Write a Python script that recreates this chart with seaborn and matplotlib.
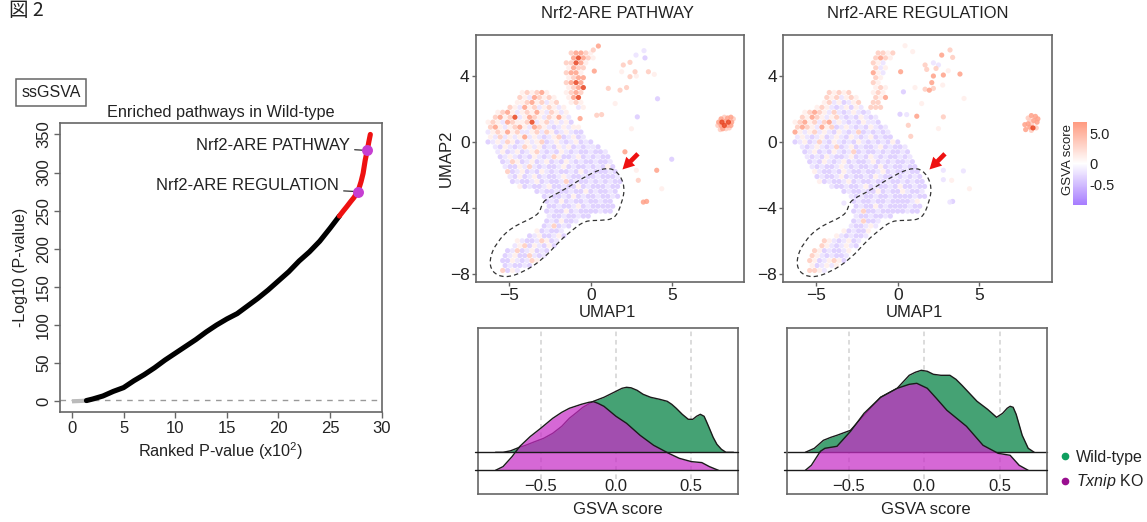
import matplotlib
matplotlib.use("Agg")
import matplotlib.pyplot as plt
import numpy as np
import pandas as pd
import seaborn as sns
from matplotlib.cm import ScalarMappable
from matplotlib.colors import LinearSegmentedColormap, TwoSlopeNorm
from matplotlib.lines import Line2D
from matplotlib.patches import PathPatch
from matplotlib.path import Path

# --------------------------------------
# Ranked pathway curve
# --------------------------------------
GREY_RANK = [0, 0.5, 1.0, 1.5]
GREY_LOGP = [0, 0.3, 0.6, 1]
BLACK_RANK = [1.4, 2, 3, 4, 5, 6, 7, 8, 9, 10, 11, 12, 13, 14, 15, 16, 17, 18, 19, 20, 21, 22, 23, 24, 25, 25.9]
BLACK_LOGP = [1, 3, 7, 13, 18, 27, 35, 44, 54, 63, 72, 81, 91, 100, 108, 115, 125, 135, 146, 158, 170, 184, 196, 210, 227, 243]
RED_RANK = [25.9, 26.3, 26.6, 27, 27.3, 27.7, 28, 28.2, 28.4, 28.6, 28.75, 28.9]
RED_LOGP = [243, 250, 255, 262, 267, 275, 288, 299, 316, 329, 340, 350]
HIGHLIGHT_RANK = [28.6, 27.7]
HIGHLIGHT_LOGP = [329, 275]
HIGHLIGHT_NAMES = ["Nrf2-ARE PATHWAY", "Nrf2-ARE REGULATION"]

# --------------------------------------
# UMAP cells binned by eye, 0.3 units per character, one row every 0.3
# a,b lilac / c,d,e pink to salmon / f red
# --------------------------------------
LEVEL_NAMES = "abcdef"
LEVEL_SCORES = [-0.4, -0.22, 1.2, 3.5, 6.5, 9.0]

PATHWAY_ROWS = [
    "",
    "",
    "                  deedc",
    "                  efedc",
    "                 ddfec",
    "                 cedd",
    "                 deec",
    "                 cdee",
    "                 defe",
    "                 cdef",
    "        cdcdec   cded",
    "       dcbedcdc  cef",
    "       ccdecdbcd  cdc",
    "     dcbecdbcdcbc  bc",
    "   cdecbcdcecbdcbc",
    "  decdfbcedcbdcecb",
    " cdcbedccdfbcdbcbca",
    " decbcdecbedcbabcbcc",
    " bcdcecdbbcdbdcabcbaa",
    " cbdbcbcebcbabcdabcab",
    " abcbdcabcbcdabcbabcaba",
    "  bacbabdcbcabacbcababba",
    "   bcabcabcdbabacbabaabaab",
    "   abcbabacbabdcaabcababaa",
    "    abdcabcabcabacbabaabaab",
    "    baacbdbabaabcabaababaca",
    "     dabcabacbabaabacabaaaba",
    "     bacabcabaabcbaabaabaaab",
    "      abaabcabaabdabaabababaa",
    "       cabaabcaabaacabaaabaa",
    "           abaabaabaacabaaba",
    "            abaabacabaabaaba",
    "             abacabaabaabaa",
    "             aabaabcabaaaaa",
    "             abaacabaaaabaa",
    "             baabaabaa",
    "             abacaab",
    "            abdaba",
    "           cabaab",
    "         abcaabca",
    "       cbaabdcab",
    "      bcdacbaca",
    "     abdabcaba",
    "    abcaadbab",
    "    aacbabdc",
    "    abaaba",
    "    dacb",
]
PATHWAY_X = [0.47, 0.16, 3.27, 2.78, 3.33, 2.41, 2.0, 1.9, 2.72, 3.54, 3.9, 0.22, 2.41, 2.8, 2.2, 1.8, 1.08, 4.1, 1.5, 2.86,
             0.37, 0.67, -0.65, 2.1, 4.97, 4.05, 2.8, 2.92, 3.23, 3.43, 2.5, 4.36,
             8.0, 8.2, 8.4, 8.6, 8.75, 7.85, 8.05, 8.25, 8.45, 8.65, 7.8, 8.0, 8.2, 8.4, 8.6, 8.1, 8.3, 7.95, 8.5]
PATHWAY_Y = [5.82, 5.58, 5.54, 5.27, 5.1, 4.83, 4.67, 4.26, 4.26, 4.26, 4.1, 4.3, 3.96, 4.0, 3.3, 3.14, 3.25, 2.62, 2.33, 1.52,
             1.62, 1.66, 1.42, -0.6, -1.05, -1.72, -1.72, -2.33, -3.65, -3.61, 0.8, -2.84,
             1.4, 1.5, 1.45, 1.5, 1.4, 1.2, 1.2, 1.25, 1.2, 1.2, 1.0, 1.0, 1.0, 1.0, 1.0, 0.8, 0.8, 0.75, 0.85]
PATHWAY_LEVEL = "edbbaddcddcedcdddaca" + "ddeeaecdeecc" + "edeedefefedefeeeddd"

REGULATION_ROWS = [
    "",
    "",
    "                  ddcd",
    "                 dedc",
    "                 dcb",
    "                 dbc",
    "                 ecb",
    "                 dc",
    "                 dc",
    "                 cdc",
    "        dcdcd    cdc",
    "       dcdbcdc   dce",
    "       cdbcabcd  dd",
    "     cdcbabcacb ddd",
    "   cdedcbdbabcbab",
    "  dcedcbcdbabacbab",
    " cdecdbdebcbabacbba",
    " dedcbecdabcbabacbab",
    " ecbcdbcbacbabdababab",
    " bcbabcabcbacbabcabaa",
    " abcabdbacbabacbababaca",
    "  babcbabdabcabaabcabaab",
    "   abcabacbabdabaababaaba",
    "   babacbaabcabacbabaabab",
    "    abacbabcabaabcababaaba",
    "    babaabcbabaabacabaabaa",
    "     cbaabacbaabaabcabaabaa",
    "     abaabcabaabacbaabababa",
    "      cabaabcabaabaabaababaa",
    "        baabaabcabaabacaabaa",
    "           abaabaacabaacbaab",
    "            babaabaabaaaabaa",
    "             abaabaabaaaabc",
    "             abaacabaaaabaa",
    "             abdaabaaaaabaa",
    "             baabaaba",
    "             abdaab",
    "            baabcb",
    "           cabaac",
    "         cbabaab",
    "       dcbabcab",
    "      dcbabcba",
    "     dcabaabc",
    "    dcbabaab",
    "    dcabcdca",
    "    cabcbc",
    "    ddcb",
]
REGULATION_X = [0.45, 0.92, 3.21, 2.7, 3.37, 1.68, 2.19, 2.5, 1.78, 2.35, 0.18, 3.1, 3.82, 2.19, 2.8, 2.09, 2.76, 1.06, 1.68, 1.94,
                2.19, 0.35, 4.07, 1.47, 0.14, 0.55, 1.17, 2.8, 0.65, 2.5, 0.8, 2.8, 4.03, 2.8, 3.31, 4.4, 3.2, 3.37, -3.3,
                8.0, 8.2, 8.45, 8.6, 8.1, 8.35, 8.55, 8.0, 8.2, 8.4, 7.8, 8.1, 8.3, 8.5, 7.85, 8.2]
REGULATION_Y = [5.84, 5.48, 5.58, 5.27, 5.13, 4.67, 4.8, 4.67, 4.4, 4.46, 4.26, 4.32, 4.12, 4.0, 4.06, 3.6, 3.45, 3.3, 3.2, 3.14,
                3.25, 3.04, 2.64, 2.33, 1.68, 1.66, 1.56, 1.52, 1.01, 0.81, 0.34, -1.72, -1.76, -2.29, -2.33, -2.84, -3.65, -3.61, -3.71,
                1.45, 1.6, 1.55, 1.4, 1.3, 1.3, 1.2, 1.1, 1.1, 1.1, 1.05, 0.9, 0.85, 0.85, 0.75, 0.7]
REGULATION_LEVEL = "ccdeddbbddeceeeeccde" + "daccabeddcdbbbccbab" + "deeedeeedceefded"

# outline of the dashed region
OUTLINE_X = [-2.80, -1.68, -0.25, 0.98, 1.70, 2.11, 1.90, 1.49, 0.57, -0.35, -1.17, -1.88, -2.90, -4.13, -5.26, -6.07, -6.22, -5.77, -4.85, -3.21, -3.01]
OUTLINE_Y = [-3.49, -2.94, -2.03, -1.52, -1.83, -2.74, -3.75, -4.67, -4.77, -4.77, -5.38, -5.98, -7.10, -7.91, -8.26, -7.91, -7.10, -6.09, -5.17, -4.46, -3.85]

# --------------------------------------
# Ridges, heights in arbitrary units
# --------------------------------------
P_WT_X = [-0.80, -0.75, -0.70, -0.65, -0.60, -0.55, -0.48, -0.42, -0.36, -0.31, -0.26, -0.22, -0.15, -0.08, -0.04, 0, 0.04, 0.07, 0.10, 0.14, 0.18, 0.23, 0.29, 0.34, 0.37, 0.40, 0.44, 0.48, 0.51, 0.535, 0.56, 0.585, 0.60, 0.62, 0.645, 0.67, 0.70, 0.73, 0.78]
P_WT_H = [0, 0, 1.5, 4.5, 7, 10, 14, 19, 26, 34, 40, 45, 51, 55, 58, 61, 64, 65, 64.5, 62, 58, 55, 53, 51, 48, 44, 38, 33, 33, 36, 38, 36, 31, 24, 15, 8, 3, 0, 0]
P_KO_X = [-0.80, -0.75, -0.69, -0.64, -0.57, -0.50, -0.42, -0.36, -0.31, -0.23, -0.18, -0.15, -0.12, -0.08, 0, 0.07, 0.16, 0.25, 0.35, 0.42, 0.50, 0.57, 0.62, 0.68]
P_KO_H = [0, 3.7, 13.7, 23.7, 33.7, 42, 52, 58, 62, 66, 68, 68.7, 67, 64, 54, 47, 35, 25, 17, 12, 8.7, 7.7, 3.7, 0]
R_WT_X = [-0.79, -0.73, -0.67, -0.62, -0.58, -0.49, -0.40, -0.29, -0.18, -0.10, -0.06, -0.02, 0.02, 0.06, 0.11, 0.17, 0.21, 0.25, 0.35, 0.42, 0.48, 0.52, 0.55, 0.57, 0.59, 0.61, 0.65, 0.69, 0.73]
R_WT_H = [0, 4, 12, 15, 17, 22, 37, 55, 64, 77, 80, 82, 81, 78, 77, 77, 73, 67, 51, 43, 35, 39, 44, 46, 45, 38, 17, 4, 0]
R_KO_X = [-0.79, -0.75, -0.69, -0.66, -0.58, -0.49, -0.40, -0.29, -0.18, -0.10, -0.05, 0.02, 0.08, 0.15, 0.28, 0.39, 0.49, 0.57, 0.63, 0.69]
R_KO_H = [0, 5, 19, 22, 24, 39, 57, 73, 82, 86, 87, 82, 72, 60, 44, 25, 17, 15, 5, 0]
RIDGE_OFFSET = 18

COLORBAR_TICKS = [-0.5, 0, 5]
COLORBAR_LABELS = ["-0.5", "0", "5.0"]

W, H = 1147, 522
GREEN = "#45A274"
ORCHID = "#C72EC7"
EDGE = "#666666"

sns.set_theme(style="white")
plt.rcParams["font.family"] = ["Liberation Sans", "Noto Sans CJK JP"]
plt.rcParams["mathtext.fontset"] = "custom"
plt.rcParams["mathtext.rm"] = "Liberation Sans"
plt.rcParams["mathtext.it"] = "Liberation Sans:italic"
plt.rcParams["mathtext.default"] = "regular"
plt.rcParams["text.color"] = "#222222"
plt.rcParams["axes.labelcolor"] = "#222222"
plt.rcParams["xtick.color"] = "#222222"
plt.rcParams["ytick.color"] = "#222222"

fig = plt.figure(figsize=(W / 100, H / 100), dpi=100)


def px_axes(left, top, right, bottom):
    ax = fig.add_axes([left / W, 1 - bottom / H, (right - left) / W, (bottom - top) / H])
    for s in ax.spines.values():
        s.set_color(EDGE)
        s.set_linewidth(1.2)
    return ax


def cell_table(rows, extra_x, extra_y, extra_level):
    xs, ys, levels = list(extra_x), list(extra_y), list(extra_level)
    for r, row in enumerate(rows):
        for c, ch in enumerate(row):
            if ch != " ":
                xs.append(-6.6 + 0.3 * c + 0.15 * (r % 2))
                ys.append(6.0 - 0.3 * r)
                levels.append(ch)
    scores = [LEVEL_SCORES[LEVEL_NAMES.index(ch)] for ch in levels]
    return pd.DataFrame({"umap1": xs, "umap2": ys, "score": scores}).sort_values("score")


def outline_patch():
    # quadratic pieces through edge midpoints, closes on itself
    pts = np.column_stack([OUTLINE_X, OUTLINE_Y])
    mids = (pts + np.roll(pts, -1, axis=0)) / 2
    verts = [mids[-1]]
    codes = [Path.MOVETO]
    for p, m in zip(pts, mids):
        verts += [p, m]
        codes += [Path.CURVE3, Path.CURVE3]
    return PathPatch(Path(verts, codes), fill=False, ec="#333333", lw=0.9, ls=(0, (3.5, 2.5)))


cmap = LinearSegmentedColormap.from_list("gsva", ["#A67CFF", "#FFFFFF", "#FF9A80"])
cmap.set_over("#E8431F")
norm = TwoSlopeNorm(vmin=-1, vcenter=0, vmax=7)

# --------------------------------------
# Left panel
# --------------------------------------
ax = px_axes(60, 123, 382, 412)
ax.axhline(1.3, color="#999999", lw=1, ls=(0, (4, 4)))
sns.lineplot(x=GREY_RANK, y=GREY_LOGP, color="#BBBBBB", lw=3, ax=ax, solid_capstyle="butt")
sns.lineplot(x=BLACK_RANK, y=BLACK_LOGP, color="black", lw=3.7, ax=ax, solid_capstyle="round")
sns.lineplot(x=RED_RANK, y=RED_LOGP, color="#EE1111", lw=3.7, ax=ax, solid_capstyle="round")
sns.scatterplot(x=HIGHLIGHT_RANK, y=HIGHLIGHT_LOGP, color="#C63FD2", s=62, linewidth=0, ax=ax, zorder=5)
for name, rank, logp, right_px, mid_px in zip(HIGHLIGHT_NAMES, HIGHLIGHT_RANK, HIGHLIGHT_LOGP, [350, 339], [145, 186]):
    ax.annotate(name, xy=(rank, logp), xytext=(right_px / W, 1 - mid_px / H), textcoords="figure fraction",
                ha="right", va="center", fontsize=12,
                arrowprops=dict(arrowstyle="-", color="#333333", lw=0.9, shrinkA=1, shrinkB=0))
ax.set_xlim(-1.16, 30.03)
ax.set_ylim(-14, 365)
ax.set_xticks([0, 5, 10, 15, 20, 25, 30])
ax.set_yticks([0, 50, 100, 150, 200, 250, 300, 350])
ax.tick_params(left=True, bottom=True, length=4, width=1, color=EDGE, labelsize=12, pad=2.5)
plt.setp(ax.get_yticklabels(), rotation=90, va="center")
ax.set_xlabel("Ranked P-value (x10$^{2}$)", fontsize=11.7, labelpad=3)
ax.set_ylabel("-Log10 (P-value)", fontsize=11.5, labelpad=6)
ax.set_title("Enriched pathways in Wild-type", fontsize=11.7, pad=4)

fig.text(9 / W, 1 - 11 / H, "図 2", fontsize=14, va="center", ha="left", family=["Noto Sans CJK JP"])
fig.text(51 / W, 1 - 92.5 / H, "ssGSVA", fontsize=11.5, ha="center", va="center",
         bbox=dict(boxstyle="square,pad=0.35", fc="white", ec=EDGE, lw=1.1))

# --------------------------------------
# UMAP panels
# --------------------------------------
umap_panels = [
    (476, 744, 590.7, 617, "Nrf2-ARE PATHWAY", cell_table(PATHWAY_ROWS, PATHWAY_X, PATHWAY_Y, PATHWAY_LEVEL)),
    (783, 1052, 897.7, 918, "Nrf2-ARE REGULATION", cell_table(REGULATION_ROWS, REGULATION_X, REGULATION_Y, REGULATION_LEVEL)),
]
for i, (left, right, zero_px, title_px, name, cells) in enumerate(umap_panels):
    ax = px_axes(left, 35, right, 282)
    sns.scatterplot(data=cells, x="umap1", y="umap2", hue="score", palette=cmap, hue_norm=norm,
                    s=14, linewidth=0, alpha=0.85, legend=False, ax=ax)
    ax.add_patch(outline_patch())
    ax.annotate("", xy=(1.95, -1.67), xytext=(2.9, -0.72),
                arrowprops=dict(arrowstyle="simple,head_width=0.75,head_length=0.7,tail_width=0.28", color="#EE1111", lw=0, shrinkA=0, shrinkB=0))
    ax.set_xlim((left - zero_px) / 16.3, (right - zero_px) / 16.3)
    ax.set_ylim(-8.5, 6.49)
    ax.set_xticks([-5, 0, 5])
    ax.set_yticks([-8, -4, 0, 4])
    ax.tick_params(left=True, bottom=True, length=3, width=1, color=EDGE, labelsize=12.5, pad=1.5)
    ax.set_xlabel("UMAP1", fontsize=12, labelpad=1, x=0.49)
    ax.set_ylabel("UMAP2" if i == 0 else "", fontsize=12, labelpad=-3)
    fig.text(title_px / W, 1 - 13 / H, name, fontsize=11.9, ha="center", va="center")

# colour bar
cax = px_axes(1073, 122, 1087, 205)
cb = fig.colorbar(ScalarMappable(norm=norm, cmap=cmap), cax=cax, ticks=COLORBAR_TICKS)
cb.outline.set_visible(False)
cb.ax.set_yticklabels(COLORBAR_LABELS)
cb.ax.tick_params(length=0, labelsize=10.5, pad=2)
cb.ax.yaxis.set_label_position("left")
cb.set_label("GSVA score", fontsize=9.5, labelpad=-1, y=0.55)

# --------------------------------------
# Ridges
# --------------------------------------
ridge_panels = [
    (478, 738, 616, P_WT_X, P_WT_H, P_KO_X, P_KO_H, 5),
    (786.7, 1046.7, 924.3, R_WT_X, R_WT_H, R_KO_X, R_KO_H, 2),
]
for left, right, zero_px, wt_x, wt_h, ko_x, ko_h, base_z in ridge_panels:
    ax = px_axes(left, 328, right, 494)
    ax.vlines([-0.5, 0, 0.5], -9, 142.3, color="#D2D2D2", lw=1.1, ls=(0, (3, 2.5)), zorder=0)
    wt_y = np.array(wt_h) + RIDGE_OFFSET
    ax.fill_between(wt_x, RIDGE_OFFSET, wt_y, color=GREEN, lw=0, zorder=1)
    sns.lineplot(x=wt_x, y=wt_y, color="#1A1A1A", lw=1.0, ax=ax, zorder=2)
    ax.axhline(RIDGE_OFFSET, xmin=-0.01, color="#1A1A1A", lw=1.0, zorder=base_z, clip_on=False)
    ax.fill_between(ko_x, 0, ko_h, color=ORCHID, alpha=0.72, lw=0, zorder=3)
    sns.lineplot(x=ko_x, y=ko_h, color="#1A1A1A", lw=1.0, ax=ax, zorder=4)
    ax.axhline(0, xmin=-0.01, color="#1A1A1A", lw=1.0, zorder=4, clip_on=False)
    ax.set_xlim((left - zero_px) / 150.6, (right - zero_px) / 150.6)
    ax.set_ylim(-23.7, 142.3)
    ax.set_xticks([-0.5, 0, 0.5])
    ax.set_xticklabels(["\u22120.5", "0.0", "0.5"])
    ax.set_yticks([])
    ax.tick_params(axis="x", length=0, labelsize=12, pad=-11)
    ax.set_xlabel("GSVA score", fontsize=12)
    ax.xaxis.set_label_coords((zero_px + 2 - left) / (right - left), -0.05)

handles = [Line2D([], [], marker="o", ls="", color="#0E9F5F", ms=4.5),
           Line2D([], [], marker="o", ls="", color="#990F8F", ms=4.5)]
fig.legend(handles, ["Wild-type", "$\\mathit{Txnip}$ KO"], loc="center left", bbox_to_anchor=(1059 / W, 1 - 470.5 / H),
           frameon=False, fontsize=11.5, handlelength=0.8, handletextpad=0.25, labelspacing=0.5, borderpad=0, borderaxespad=0)

fig.savefig("out.png", dpi=100)
